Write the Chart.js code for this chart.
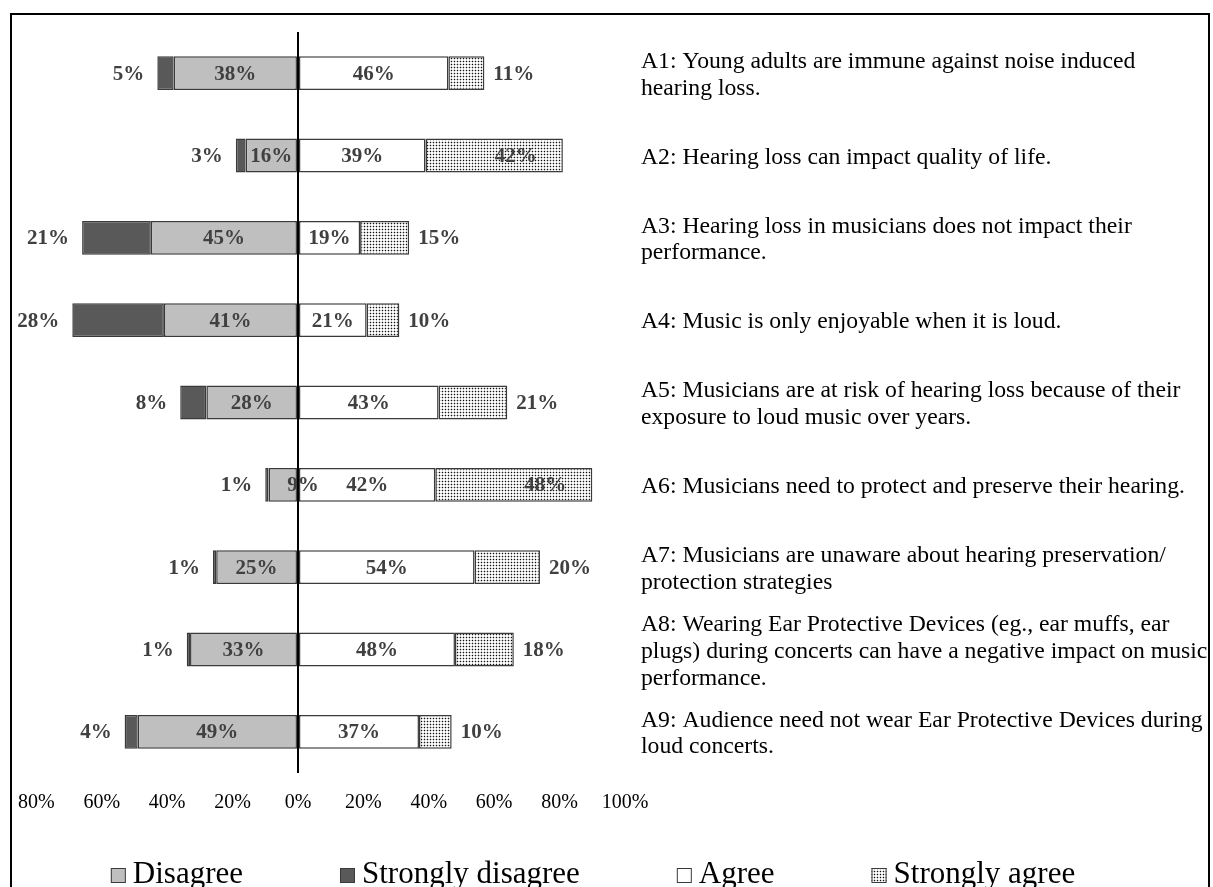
<!DOCTYPE html>
<html>
<head>
<meta charset="utf-8">
<title>Attitudes towards hearing loss</title>
<script src="https://cdn.jsdelivr.net/npm/chart.js@4.4.1/dist/chart.umd.min.js"></script>
<style>
  html, body { margin: 0; padding: 0; background: #fff; overflow: hidden; }
  #c { position: absolute; left: 0; top: 0; }
</style>
</head>
<body>
<canvas id="c" width="1211" height="887"></canvas>
<script>
// Statements (category labels, pre-wrapped into lines)
const statements = [
  ["A1: Young adults are immune against noise induced", "hearing loss."],
  ["A2: Hearing loss can impact quality of life."],
  ["A3: Hearing loss in musicians does not impact their", "performance."],
  ["A4: Music is only enjoyable when it is loud."],
  ["A5: Musicians are at risk of hearing loss because of their", "exposure to loud music over years."],
  ["A6: Musicians need to protect and preserve their hearing."],
  ["A7: Musicians are unaware about hearing preservation/", "protection strategies"],
  ["A8: Wearing Ear Protective Devices (eg., ear muffs, ear", "plugs) during concerts can have a negative impact on music", "performance."],
  ["A9: Audience need not wear Ear Protective Devices during", "loud concerts."]
];

// Response shares in percent
const disagree          = [38, 16, 45, 41, 28,  9, 25, 33, 49];
const stronglyDisagree  = [ 5,  3, 21, 28,  8,  1,  1,  1,  4];
const agree             = [46, 39, 19, 21, 43, 42, 54, 48, 37];
const stronglyAgree     = [11, 42, 15, 10, 21, 48, 20, 18, 10];

const seriesNames = ["Disagree", "Strongly disagree", "Agree", "Strongly agree"];
const axisTicks = [-80, -60, -40, -20, 0, 20, 40, 60, 80, 100];

const canvas = document.getElementById("c");
const ctx = canvas.getContext("2d");

// Fine dot hatch used for "Strongly agree"
function dotPattern() {
  const t = document.createElement("canvas");
  t.width = 3; t.height = 3;
  const g = t.getContext("2d");
  g.fillStyle = "#ffffff";
  g.fillRect(0, 0, 3, 3);
  g.fillStyle = "#cccccc";
  g.fillRect(1, 0, 1, 1); g.fillRect(0, 1, 1, 1);
  g.fillRect(2, 1, 1, 1); g.fillRect(1, 2, 1, 1);
  g.fillStyle = "#111111";
  g.fillRect(1, 1, 1, 1);
  return ctx.createPattern(t, "repeat");
}
const dots = dotPattern();

const fills = ["#bfbfbf", "#595959", "#ffffff", dots];
const edge = "#3a3a3a";
const SERIF = '"Liberation Serif", "Times New Roman", serif';

// Value labels on / beside each segment
const valueLabels = {
  id: "valueLabels",
  afterDatasetsDraw(chart) {
    const c = chart.ctx;
    c.save();
    c.font = "bold 21px " + SERIF;
    c.fillStyle = "#404040";
    c.textBaseline = "middle";
    chart.data.datasets.forEach((ds, di) => {
      const meta = chart.getDatasetMeta(di);
      meta.data.forEach((bar, i) => {
        const txt = Math.abs(ds.data[i]) + "%";
        const w = c.measureText(txt).width;
        const left = Math.min(bar.x, bar.base);
        const right = Math.max(bar.x, bar.base);
        const seg = right - left;
        let x, align;
        if (di === 0) {
          if (seg >= w + 6) { x = (left + right) / 2; align = "center"; }
          else { x = right + 6; align = "center"; }
        } else if (di === 1) {
          x = left - 13; align = "right";
        } else if (di === 2) {
          x = (left + right) / 2; align = "center";
        } else {
          if (seg >= w + 56) { x = right - 26; align = "right"; }
          else { x = right + 9; align = "left"; }
        }
        c.textAlign = align;
        c.fillText(txt, x, bar.y + 1);
      });
    });
    c.restore();
  }
};

// Legend row and outer frame
const legendAndFrame = {
  id: "legendAndFrame",
  afterDraw(chart) {
    const c = chart.ctx;
    c.save();
    c.font = "31px " + SERIF;
    c.textBaseline = "alphabetic";
    const box = 15, gap = 7, spacing = 97;
    const widths = seriesNames.map(n => box + gap + c.measureText(n).width);
    const total = widths.reduce((a, b) => a + b, 0) + spacing * (seriesNames.length - 1);
    let x = 593 - total / 2;
    const baseline = 883;
    seriesNames.forEach((name, k) => {
      c.fillStyle = fills[k];
      c.fillRect(x, baseline - box, box, box);
      c.strokeStyle = edge;
      c.lineWidth = 1;
      c.strokeRect(x + 0.5, baseline - box + 0.5, box - 1, box - 1);
      c.fillStyle = "#000";
      c.textAlign = "left";
      c.fillText(name, x + box + gap, baseline);
      x += widths[k] + spacing;
    });
    c.strokeStyle = "#000";
    c.lineWidth = 2;
    c.strokeRect(11, 14, 1198, 900);
    c.restore();
  }
};

new Chart(canvas, {
  type: "bar",
  data: {
    labels: statements,
    datasets: [
      { label: seriesNames[0], data: disagree.map(v => -v), backgroundColor: fills[0] },
      { label: seriesNames[1], data: stronglyDisagree.map(v => -v), backgroundColor: fills[1] },
      { label: seriesNames[2], data: agree, backgroundColor: fills[2] },
      { label: seriesNames[3], data: stronglyAgree, backgroundColor: fills[3] }
    ].map(d => Object.assign(d, {
      borderColor: edge,
      borderWidth: 1.5,
      borderSkipped: false,
      categoryPercentage: 1,
      barPercentage: 0.41
    }))
  },
  options: {
    indexAxis: "y",
    responsive: false,
    animation: false,
    devicePixelRatio: 1,
    layout: { padding: { left: 36, top: 32, right: 0, bottom: 0 } },
    plugins: { legend: { display: false }, tooltip: { enabled: false } },
    scales: {
      x: {
        type: "linear",
        stacked: true,
        min: -80,
        max: 100,
        z: 1,
        afterBuildTicks: s => { s.ticks = axisTicks.map(v => ({ value: v })); },
        afterFit: s => { s.height = 114; },
        grid: {
          drawTicks: false,
          color: c => (c.tick && c.tick.value === 0 ? "#000" : "rgba(0,0,0,0)"),
          lineWidth: 2
        },
        border: { display: false },
        ticks: {
          padding: 18,
          color: "#000",
          font: { family: SERIF, size: 20 },
          callback: v => Math.abs(v) + "%"
        }
      },
      y: {
        type: "category",
        stacked: true,
        position: "right",
        offset: true,
        afterFit: s => { s.width = 586; s.paddingTop = 0; s.paddingBottom = 0; },
        grid: { display: false },
        border: { display: false },
        ticks: {
          autoSkip: false,
          padding: 8,
          labelOffset: 2,
          crossAlign: "near",
          color: "#000",
          font: { family: SERIF, size: 23.7, lineHeight: 1.13 }
        }
      }
    }
  },
  plugins: [valueLabels, legendAndFrame]
});
</script>
</body>
</html>
